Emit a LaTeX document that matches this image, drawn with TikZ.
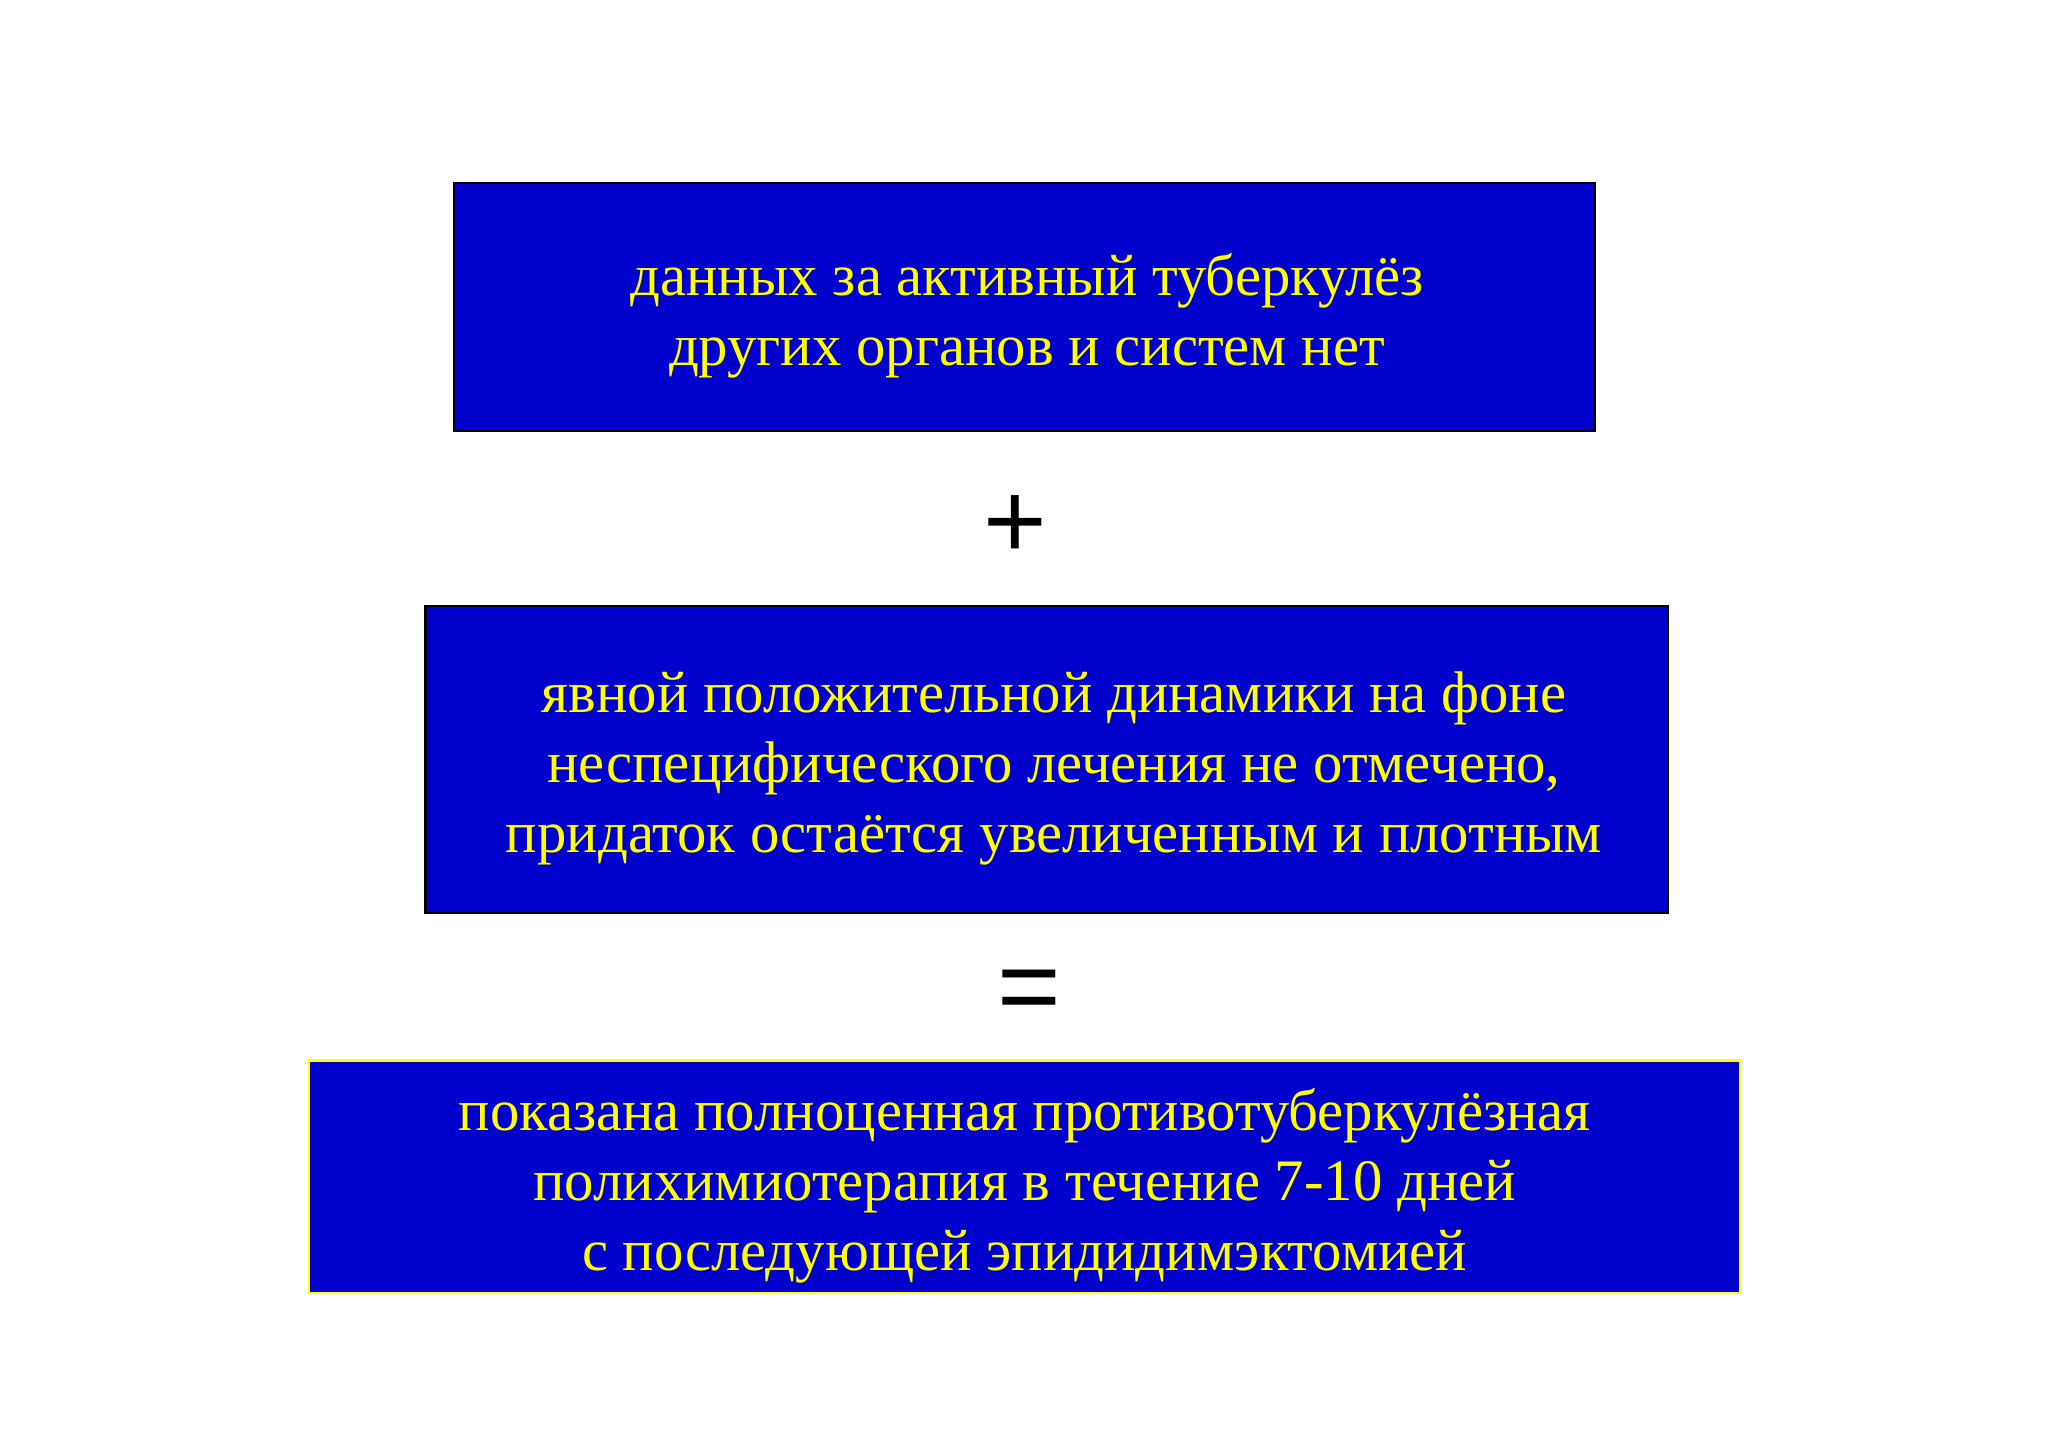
\documentclass[tikz,border=0pt]{standalone}
\usepackage{fontspec}
\setmainfont{Liberation Serif}
\newfontfamily\symfont{Liberation Sans}
\definecolor{boxblue}{RGB}{0,0,204}
\definecolor{txtyellow}{RGB}{255,255,0}
\begin{document}
\begin{tikzpicture}[x=0.01cm,y=-0.01cm,
  infobox/.style={rectangle, fill=boxblue, draw=black, line width=0.6pt, inner sep=0pt, outer sep=0pt},
  infotext/.style={inner sep=0pt, text=txtyellow, align=center, font=\fontsize{16.7}{20}\selectfont},
  opsign/.style={inner sep=0pt, text=black, font=\symfont\fontsize{31}{31}\selectfont}]
\useasboundingbox (0,0) rectangle (2048,1449);
\fill[white] (0,0) rectangle (2048,1449);
\node[infobox, minimum width=11.40cm, minimum height=2.48cm] (b1) at (1024.7,307) {};
\node[infotext] (t1) at (1027,316)
  {данных за активный туберкулёз\\ других органов и систем нет};
\node[opsign] (plus) at (1015,527) {+};
\node[infobox, minimum width=12.42cm, minimum height=3.07cm] (b2) at (1046.9,759.5) {};
\node[infotext] (t2) at (1054,768.5)
  {явной положительной динамики на фоне\\ неспецифического лечения не отмечено,\\ придаток остаётся увеличенным и плотным};
\node[opsign] (eq) at (1029,997) {=};
\node[infobox, draw=txtyellow, minimum width=14.30cm, minimum height=2.325cm] (b3) at (1024.7,1176.8) {};
\node[infotext] (t3) at (1024.7,1185.8)
  {показана полноценная противотуберкулёзная\\ полихимиотерапия в течение 7-10 дней\\ с последующей эпидидимэктомией};
\end{tikzpicture}
\end{document}
